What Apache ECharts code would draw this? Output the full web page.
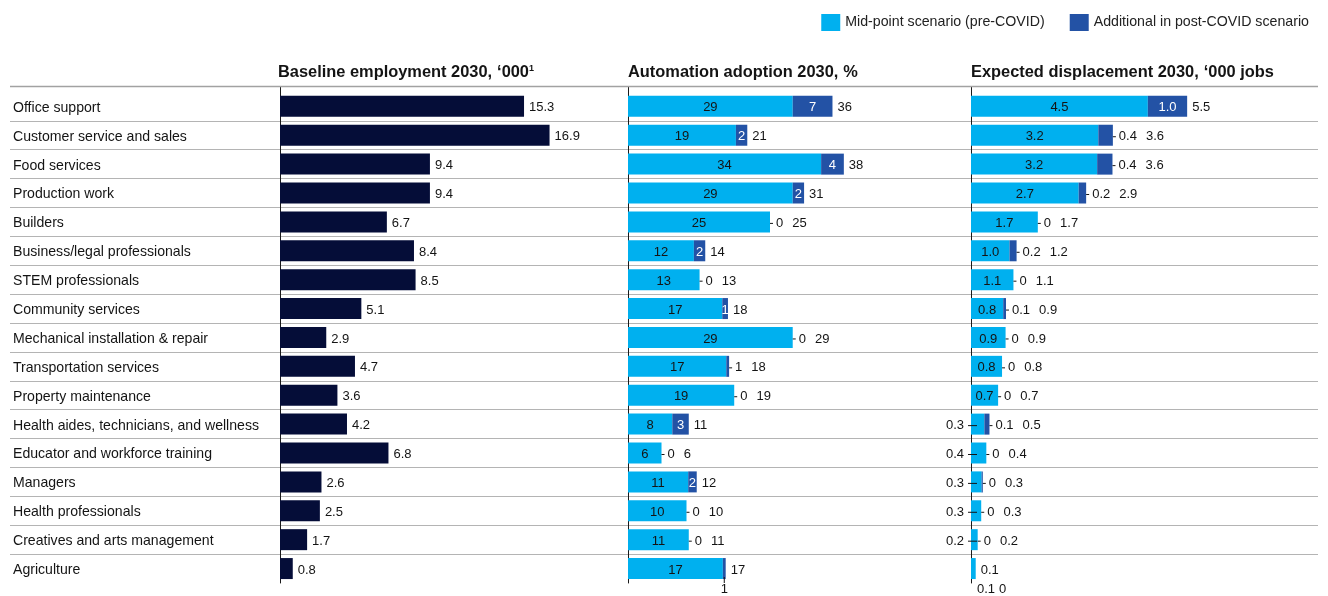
<!DOCTYPE html>
<html>
<head>
<meta charset="utf-8">
<script src="https://cdn.jsdelivr.net/npm/echarts@6/dist/echarts.min.js"></script>
<style>
  html, body { margin: 0; padding: 0; background: #fff; }
  #chart { width: 1328px; height: 596px; }
</style>
</head>
<body>
<div id="chart"></div>
<script>
// Occupation groups, top to bottom
const categories = [
  'Office support',
  'Customer service and sales',
  'Food services',
  'Production work',
  'Builders',
  'Business/legal professionals',
  'STEM professionals',
  'Community services',
  'Mechanical installation & repair',
  'Transportation services',
  'Property maintenance',
  'Health aides, technicians, and wellness',
  'Educator and workforce training',
  'Managers',
  'Health professionals',
  'Creatives and arts management',
  'Agriculture'
];

// Baseline employment 2030, '000
const baselineEmployment = [15.3, 16.9, 9.4, 9.4, 6.7, 8.4, 8.5, 5.1, 2.9, 4.7, 3.6, 4.2, 6.8, 2.6, 2.5, 1.7, 0.8];

// Automation adoption 2030, %
const adoptionMidpoint   = [29, 19, 34, 29, 25, 11.6, 12.6, 16.6, 29, 17.3, 18.7, 7.8, 5.9, 10.6, 10.3, 10.7, 16.7];
const adoptionPostCovid  = [7, 2, 4, 2, 0, 2.0, 0, 1.0, 0, 0.5, 0, 2.9, 0, 1.5, 0, 0, 0.5];

// Expected displacement 2030, '000 jobs
const displacementMidpoint  = [4.5, 3.24, 3.21, 2.74, 1.7, 0.98, 1.08, 0.82, 0.88, 0.79, 0.69, 0.34, 0.39, 0.27, 0.26, 0.17, 0.12];
const displacementPostCovid = [1.0, 0.37, 0.39, 0.19, 0, 0.18, 0, 0.07, 0, 0, 0, 0.13, 0, 0.03, 0, 0, 0];

const legendNames = ['Mid-point scenario (pre-COVID)', 'Additional in post-COVID scenario'];

const FONT = '"Liberation Sans", Arial, sans-serif';
const INK = '#141414';
const NAVY = '#050d38';
const CYAN = '#00b0ef';
const BLUE = '#2352a5';
const RULE = '#b4b4b4';

const GRID_TOP = 91.9;
const GRID_H = 491.1;
const HEADER_Y = 86.5;
const BAR_W = 21;
const TEXT_DROP = 1.5;   // numerals sit a touch below the bar centre line

const panels = {
  base: { left: 280, width: 319, max: 20 },
  auto: { left: 628, width: 284, max: 50 },
  disp: { left: 971, width: 314.4, max: 8 }
};

const measureCtx = document.createElement('canvas').getContext('2d');
measureCtx.font = '13px ' + FONT;
const textW = s => measureCtx.measureText(s).width;

const fmtInt = v => String(Math.round(v));
const fmtOne = v => { const s = v.toFixed(1); return s === '0.0' ? '0' : s; };

const richStyles = {
  v:   { fontSize: 13, fontFamily: FONT, color: INK },
  w:   { fontSize: 13, fontFamily: FONT, color: '#ffffff' },
  vl:  { fontSize: 13, fontFamily: FONT, color: INK, padding: [0, 4, 0, 0] },
  d:   { fontSize: 13, fontFamily: FONT, color: INK, padding: [0, 0, 0, 3] },
  g:   { fontSize: 13, fontFamily: FONT, color: INK, padding: [0, 0, 0, 9] },
  tk:  { width: 9, height: 1, backgroundColor: INK },
  tk2: { width: 3, height: 1, backgroundColor: INK },
  vt:  { width: 1, height: 6, backgroundColor: INK }
};

// Builds the three series (two stacked segments + a transparent total carrier) for one panel
function stackedPanel(gridIdx, mid, post, fmt, panel) {
  const ppu = panel.width / panel.max;
  const last = mid.length - 1;
  const midData = [], postData = [], totalData = [];
  const drop = [0, TEXT_DROP];

  mid.forEach((m, i) => {
    const p = post[i];
    const t = m + p;
    const mTxt = fmt(m), pTxt = fmt(p), tTxt = fmt(t);
    const mFits = m * ppu >= textW(mTxt) - 2;
    const pFits = p * ppu >= textW(pTxt) - 2;

    // pre-COVID segment
    let mLabel;
    if (mFits) {
      mLabel = { show: true, position: 'inside', offset: drop, formatter: '{v|' + mTxt + '}' };
    } else if (i === last) {
      mLabel = { show: true, position: [6, '100%'], align: 'left', verticalAlign: 'top',
                 offset: [0, 4], formatter: '{v|' + mTxt + '}' };
    } else {
      mLabel = { show: true, position: [6, '50%'], align: 'right', verticalAlign: 'middle',
                 offset: drop, formatter: '{vl|' + mTxt + '}{tk|}' };
    }
    midData.push({ value: m, label: mLabel });

    // post-COVID increment
    let pLabel;
    if (pFits) {
      pLabel = { show: true, position: 'inside', offset: drop, formatter: '{w|' + pTxt + '}' };
    } else if (i === last) {
      if (!mFits) {
        const dx = 6 + textW(mTxt) + 4 - m * ppu;
        pLabel = { show: true, position: [dx, '100%'], align: 'left', verticalAlign: 'top',
                   offset: [0, 4], formatter: '{v|' + pTxt + '}' };
      } else {
        pLabel = { show: true, position: ['50%', '100%'], align: 'center', verticalAlign: 'top',
                   offset: [0, -2], formatter: '{vt|}\n{v|' + pTxt + '}' };
      }
    } else {
      pLabel = { show: false };
    }
    postData.push({ value: p, label: pLabel });

    // total at the end of the stack
    let tLabel;
    if (pFits || i === last) {
      tLabel = { show: true, position: 'right', distance: 5, offset: drop,
                 formatter: '{v|' + tTxt + '}' };
    } else {
      tLabel = { show: true, position: 'right', distance: 0, offset: drop,
                 formatter: '{tk2|}{d|' + pTxt + '}{g|' + tTxt + '}' };
    }
    totalData.push({ value: t, label: tLabel });
  });

  return [
    {
      name: legendNames[0], type: 'bar', stack: 'seg' + gridIdx,
      xAxisIndex: gridIdx, yAxisIndex: gridIdx, barWidth: BAR_W,
      itemStyle: { color: CYAN }, data: midData,
      label: { show: true, rich: richStyles }, silent: true
    },
    {
      name: legendNames[1], type: 'bar', stack: 'seg' + gridIdx,
      xAxisIndex: gridIdx, yAxisIndex: gridIdx, barWidth: BAR_W,
      itemStyle: { color: BLUE }, data: postData,
      label: { show: true, rich: richStyles }, silent: true
    },
    {
      name: 'total' + gridIdx, type: 'bar',
      xAxisIndex: gridIdx, yAxisIndex: gridIdx, barWidth: BAR_W, barGap: '-100%',
      itemStyle: { color: 'rgba(0,0,0,0)' }, data: totalData,
      label: { show: true, rich: richStyles }, silent: true
    }
  ];
}

function valueAxis(gridIndex, max) {
  return { type: 'value', gridIndex, min: 0, max, show: false };
}
function catAxis(gridIndex, extra) {
  return Object.assign({
    type: 'category', gridIndex, data: categories, inverse: true,
    axisLine: { show: true, lineStyle: { color: '#1a1a1a', width: 1 } },
    axisTick: { show: false }, axisLabel: { show: false }, splitLine: { show: false }
  }, extra || {});
}

const headerRich = {
  b: { fontSize: 16.4, fontWeight: 'bold', fontFamily: FONT, color: INK },
  r: { fontSize: 16.4, fontFamily: FONT, color: INK },
  s: { fontSize: 9, fontFamily: FONT, color: INK, padding: [0, 0, 7, 0] }
};

const option = {
  animation: false,
  backgroundColor: '#ffffff',
  textStyle: { fontFamily: FONT },
  title: [
    { left: panels.base.left - 2, top: 63.5, padding: 0,
      text: '{b|Baseline employment 2030,} {r|‘000}{s|1}', textStyle: { rich: headerRich } },
    { left: panels.auto.left, top: 63.5, padding: 0,
      text: '{b|Automation adoption 2030,} {r|%}', textStyle: { rich: headerRich } },
    { left: panels.disp.left, top: 63.5, padding: 0,
      text: '{b|Expected displacement 2030,} {r|‘000 jobs}', textStyle: { rich: headerRich } }
  ],
  legend: {
    data: legendNames, top: 9, right: 14, icon: 'rect',
    itemWidth: 19, itemHeight: 17, itemGap: 25, selectedMode: false,
    textStyle: { fontSize: 14.2, fontFamily: FONT, color: '#222' }
  },
  grid: [
    { left: panels.base.left, width: panels.base.width, top: GRID_TOP, height: GRID_H },
    { left: panels.auto.left, width: panels.auto.width, top: GRID_TOP, height: GRID_H },
    { left: panels.disp.left, width: panels.disp.width, top: GRID_TOP, height: GRID_H },
    { left: 10, right: 10, top: GRID_TOP, height: GRID_H }
  ],
  xAxis: [
    valueAxis(0, panels.base.max),
    valueAxis(1, panels.auto.max),
    valueAxis(2, panels.disp.max),
    valueAxis(3, 1)
  ],
  yAxis: [
    catAxis(0, {
      axisLabel: { show: true, align: 'left', margin: panels.base.left - 13,
                   formatter: v => '{c|' + v + '}',
                   rich: { c: { fontSize: 14.1, fontFamily: FONT, color: INK,
                                padding: [3, 0, 0, 0] } } }
    }),
    catAxis(1),
    catAxis(2),
    catAxis(3, {
      axisLine: { show: false },
      splitLine: { show: true, showMinLine: false, showMaxLine: false,
                   lineStyle: { color: RULE, width: 1 } }
    })
  ],
  series: [
    {
      name: 'baseline', type: 'bar', xAxisIndex: 0, yAxisIndex: 0, barWidth: BAR_W,
      itemStyle: { color: NAVY }, data: baselineEmployment, silent: true,
      label: { show: true, position: 'right', distance: 5, offset: [0, TEXT_DROP],
               fontSize: 13, fontFamily: FONT, color: INK,
               formatter: p => p.value.toFixed(1) }
    },
    ...stackedPanel(1, adoptionMidpoint, adoptionPostCovid, fmtInt, panels.auto),
    ...stackedPanel(2, displacementMidpoint, displacementPostCovid, fmtOne, panels.disp)
  ]
};

const chart = echarts.init(document.getElementById('chart'), null, { renderer: 'canvas' });
chart.setOption(option);

// Rule under the panel headers, and the value axes carried up to meet it
const axisLinks = [0, 1, 2].map(g => {
  const x = Math.round(chart.convertToPixel({ gridIndex: g }, [0, 0])[0]) + 0.5;
  return { type: 'line', silent: true, z: 10,
           shape: { x1: x, y1: HEADER_Y, x2: x, y2: GRID_TOP + 1 },
           style: { stroke: '#1a1a1a', lineWidth: 1 } };
});
chart.setOption({
  graphic: [
    { type: 'line', silent: true, z: 11,
      shape: { x1: 10, y1: HEADER_Y, x2: 1318, y2: HEADER_Y },
      style: { stroke: '#a2a2a2', lineWidth: 1.5 } },
    ...axisLinks
  ]
});
</script>
</body>
</html>
